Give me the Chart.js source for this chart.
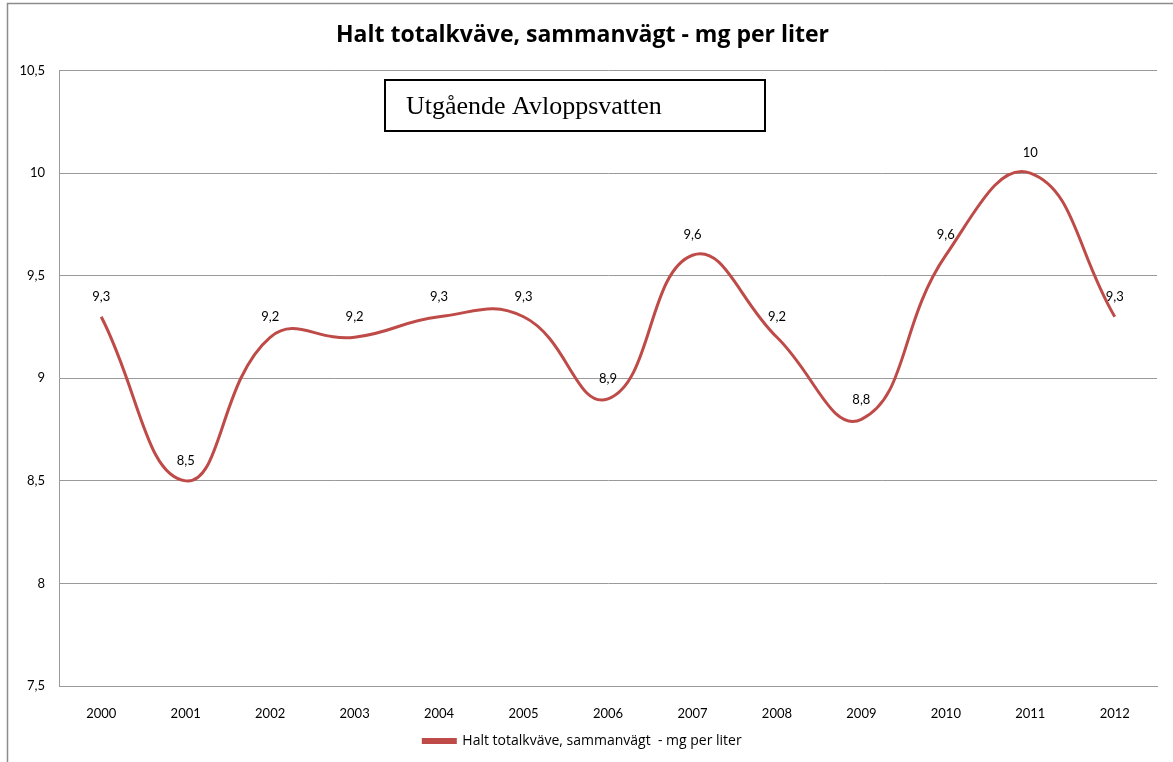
<!DOCTYPE html>
<html>
<head>
<meta charset="utf-8">
<script src="https://cdn.jsdelivr.net/npm/chart.js@4"></script>
<style>
  html, body { margin: 0; padding: 0; background: #fff; }
  #wrap { width: 1173px; height: 762px; }
</style>
</head>
<body>
<div id="wrap"><canvas id="line-chart" width="1173" height="762"></canvas></div>
<script>
// data
var years = ["2000", "2001", "2002", "2003", "2004", "2005", "2006", "2007", "2008", "2009", "2010", "2011", "2012"];
var haltValues = [9.3, 8.5, 9.2, 9.2, 9.3, 9.3, 8.9, 9.6, 9.2, 8.8, 9.6, 10, 9.3];
var seriesName = "Halt totalkväve, sammanvägt  - mg per liter";
var chartTitle = "Halt totalkväve, sammanvägt - mg per liter";
var boxText = "Utgående Avloppsvatten";

var lineColor = "#BE4B48";
var gridColor = "#9a9a9a";
var fontName = "Lato, 'Open Sans', sans-serif";
var wideFont = "'Open Sans', Lato, sans-serif";

function commaNum(v) {
    return String(v).replace(".", ",");
}

// frame round the whole chart + the text box
var framePlugin = {
    id: "frame",
    beforeDraw: function(chart) {
        var ctx = chart.ctx;
        ctx.save();
        ctx.fillStyle = "#fff";
        ctx.fillRect(0, 0, chart.width, chart.height);
        ctx.strokeStyle = "#8c8c8c";
        ctx.lineWidth = 1.5;
        ctx.strokeRect(7.5, 3.5, chart.width + 20, chart.height + 20);
        ctx.restore();
    },
    afterDraw: function(chart) {
        var ctx = chart.ctx;
        ctx.save();
        ctx.fillStyle = "#fff";
        ctx.fillRect(385, 80, 380, 51);
        ctx.strokeStyle = "#000";
        ctx.lineWidth = 2;
        ctx.strokeRect(385, 80, 380, 51);
        ctx.fillStyle = "#000";
        ctx.font = "26px 'Liberation Serif', 'Times New Roman', serif";
        ctx.textBaseline = "middle";
        ctx.textAlign = "left";
        ctx.fillText(boxText, 406, 107);
        ctx.restore();
    }
};

// value labels above each point
var valueLabels = {
    id: "valueLabels",
    afterDatasetsDraw: function(chart) {
        var ctx = chart.ctx;
        var meta = chart.getDatasetMeta(0);
        var data = chart.data.datasets[0].data;
        ctx.save();
        ctx.font = "13px " + fontName;
        ctx.fillStyle = "#000";
        ctx.textAlign = "center";
        ctx.textBaseline = "middle";
        meta.data.forEach(function(pt, i) {
            ctx.fillText(commaNum(data[i]), pt.x, pt.y - 20);
        });
        ctx.restore();
    }
};

new Chart(document.getElementById("line-chart"), {
    type: "line",
    data: {
        labels: years,
        datasets: [{
            label: seriesName,
            data: haltValues,
            borderColor: lineColor,
            backgroundColor: lineColor,
            borderWidth: 3,
            pointRadius: 0,
            tension: 0.45,
            fill: false
        }]
    },
    options: {
        responsive: false,
        animation: false,
        layout: { padding: { left: 8, right: 16, top: 0, bottom: 4 } },
        plugins: {
            title: {
                display: true,
                text: chartTitle,
                color: "#000",
                font: { family: wideFont, size: 23, weight: "bold" },
                padding: { top: 22, bottom: 21 }
            },
            legend: {
                position: "bottom",
                labels: {
                    color: "#000",
                    font: { family: wideFont, size: 14 },
                    boxWidth: 32,
                    boxHeight: 3,
                    padding: 4
                }
            },
            tooltip: { enabled: false }
        },
        scales: {
            x: {
                offset: true,
                grid: { display: false },
                border: { display: true, color: gridColor },
                ticks: { color: "#000", font: { family: fontName, size: 13 }, padding: 12 },
                afterFit: function(scale) { scale.height = 44; }
            },
            y: {
                min: 7.5,
                max: 10.5,
                grid: { color: gridColor, drawTicks: false },
                border: { display: true, color: gridColor },
                ticks: {
                    stepSize: 0.5,
                    color: "#000",
                    font: { family: fontName, size: 13 },
                    padding: 14,
                    callback: function(v) { return commaNum(v); }
                },
                afterFit: function(scale) { scale.width = 51; }
            }
        }
    },
    plugins: [framePlugin, valueLabels]
});
</script>
</body>
</html>
